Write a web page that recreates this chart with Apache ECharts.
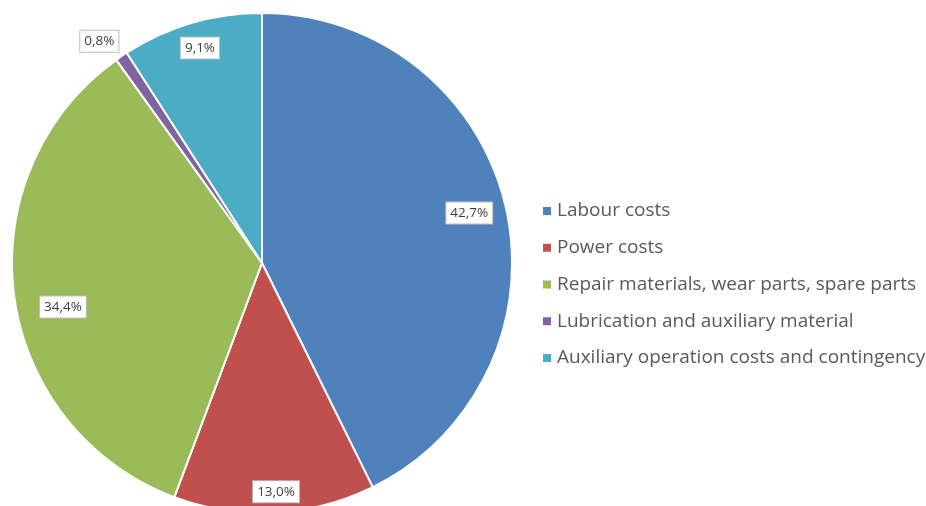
<!DOCTYPE html>
<html>
<head>
<meta charset="utf-8">
<script src="https://cdn.jsdelivr.net/npm/echarts@6/dist/echarts.min.js"></script>
<style>
  html, body { margin: 0; padding: 0; background: #ffffff; }
  #chart { width: 926px; height: 506px; }
</style>
</head>
<body>
<div id="chart"></div>
<script>
// Cost breakdown categories and their shares (%)
const categories = [
  'Labour costs',
  'Power costs',
  'Repair materials, wear parts, spare parts',
  'Lubrication and auxiliary material',
  'Auxiliary operation costs and contingency'
];
const shares = [42.7, 13.0, 34.4, 0.8, 9.1];
const colors = ['#4F81BD', '#C0504D', '#9BBB59', '#8064A2', '#4BACC6'];

// Small per-slice nudges so each value box sits where it reads best
const labelNudge = [[-7, 0], [3, 9], [19, 15], [12, 0], [0, -4]];

const FONT = '"Open Sans", sans-serif';
const fmt = v => v.toFixed(1).replace('.', ',') + '%';

const labelBox = {
  show: true,
  position: 'inside',
  formatter: p => fmt(p.value),
  color: '#404040',
  fontFamily: FONT,
  fontSize: 13.5,
  backgroundColor: '#ffffff',
  borderColor: '#bfbfbf',
  borderWidth: 1,
  padding: [4, 4, 3, 4]
};

const sliceData = categories.map((name, i) => ({
  name,
  value: shares[i],
  itemStyle: { color: colors[i] }
}));

// Transparent ring whose mid-radius carries the value labels
const labelData = categories.map((name, i) => {
  const item = { name, value: shares[i], label: { offset: labelNudge[i] } };
  if (shares[i] < 2) {
    item.label.position = 'outside';
    item.label.distance = 0;
    item.labelLine = { show: false, length: 18, length2: 0 };
  }
  return item;
});

const chart = echarts.init(document.getElementById('chart'), null, { renderer: 'canvas' });
chart.setOption({
  animation: false,
  backgroundColor: '#ffffff',
  legend: {
    orient: 'vertical',
    left: 541,
    top: 201,
    padding: 0,
    itemWidth: 10,
    itemHeight: 10,
    itemGap: 16.75,
    icon: 'rect',
    textStyle: { color: '#595959', fontFamily: FONT, fontSize: 19, lineHeight: 20 },
    data: categories
  },
  series: [
    {
      name: 'costs',
      type: 'pie',
      center: [262, 263],
      radius: [0, 250],
      startAngle: 90,
      clockwise: true,
      avoidLabelOverlap: false,
      label: { show: false },
      labelLine: { show: false },
      itemStyle: { borderColor: '#ffffff', borderWidth: 2 },
      emphasis: { disabled: true },
      data: sliceData
    },
    {
      name: 'labels',
      type: 'pie',
      center: [262, 263],
      radius: [184, 250],
      startAngle: 90,
      clockwise: true,
      silent: true,
      avoidLabelOverlap: false,
      itemStyle: { color: 'rgba(0,0,0,0)' },
      label: labelBox,
      labelLine: { show: false },
      emphasis: { disabled: true },
      data: labelData
    }
  ]
});
</script>
</body>
</html>
